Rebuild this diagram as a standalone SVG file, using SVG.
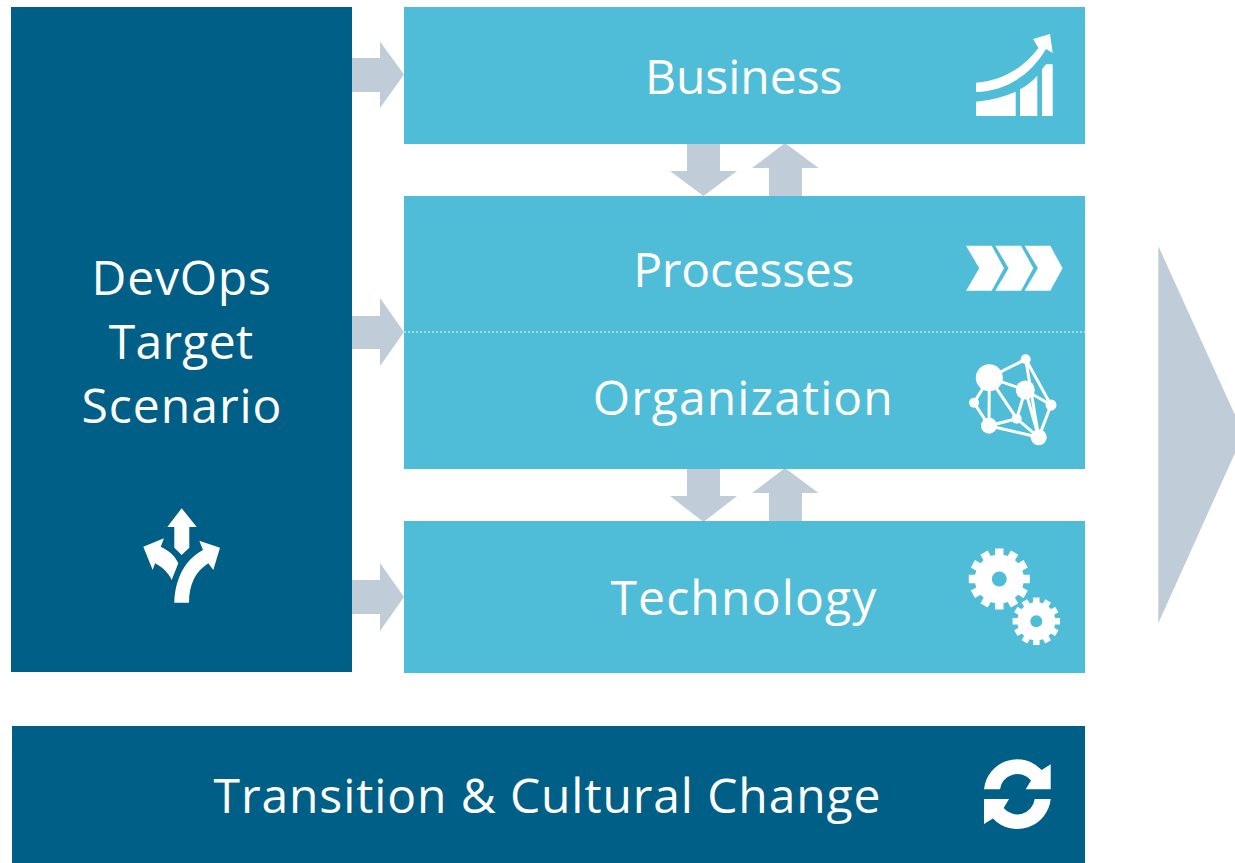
<svg xmlns="http://www.w3.org/2000/svg" width="1235" height="863" viewBox="0 0 1235 863">
<style>
.dark{fill:#005f87}.light{fill:#50bdd8}.arrow{fill:#c0cdd9}.ico{fill:#fff}
.line{stroke:#fff;stroke-width:3;fill:none}
.teeth{stroke:#fff;fill:none}
text{font-family:"Open Sans","Noto Sans","Liberation Sans",sans-serif;font-size:48px;fill:#fff;text-anchor:middle}
</style>
<rect width="1235" height="863" fill="#fff"/>
<g id="connectors" class="arrow">
<path d="M352 58H380V41.500L404 74.500L380 108V92H352Z"/>
<path d="M352 316H380V298L404 332L380 366V349H352Z"/>
<path d="M352 580H380V563L404 597L380 631V614H352Z"/>
<path d="M687 143H720V171H737L703.500 196L670 171H687Z"/>
<path d="M769 196V168H752L785 143L818.500 168H802V196Z"/>
<path d="M687 468H720V496H737L703.500 522L670 496H687Z"/>
<path d="M769 521V493H752L785 468L818.500 493H802V521Z"/>
<path id="next" d="M1158.300 246L1235 415V453L1158.300 623.300Z"/>
</g>
<g id="target">
<rect class="dark" x="11" y="7" width="341" height="665"/>
<text x="181.600" y="295" letter-spacing="0.800">DevOps</text>
<text x="181" y="359" letter-spacing="0.300">Target</text>
<text x="182" y="423" letter-spacing="1">Scenario</text>
<path class="ico" d="M181.700 508.300L196.700 527H189.300V547.700L181.700 555L174.300 547.700V527H167.300Z"/>
<path class="ico" d="M174.300 602.700H189C189 585 195 572 208.300 563.300L213.300 570L220 547.700L199.300 540.700L203 550C184 560 175 580 174.300 602.700Z"/>
<path class="ico" d="M143.300 546.700L164 538.300L160.700 546.700C170 551 175 556 178.300 563.300L171.700 580C168 572 162 567 155 563.300L152.700 570Z"/>
</g>
<g id="business">
<rect class="light" x="404" y="7" width="681" height="137"/>
<text x="743.700" y="94">Business</text>
<path class="ico" d="M976 82.700C1000 81 1022 70 1038.500 48L1033 39L1050 34L1052.700 53L1046 49C1030 76 1005 91 976 92Z"/>
<path class="ico" d="M976 101.700Q997 100 1015.700 91.700V116H976ZM1020 89.300Q1030 84 1037.300 75.700V116H1020ZM1042 69.300L1046 64.300H1052.700V116H1042Z"/>
</g>
<g id="processes-organization">
<rect class="light" x="404" y="196" width="681" height="273"/>
<line x1="404" y1="332" x2="1085" y2="332" stroke="#c4e8f1" stroke-width="1.500" stroke-dasharray="2 2"/>
<text x="743.700" y="287" letter-spacing="-0.200">Processes</text>
<text x="743.300" y="415" letter-spacing="1.100">Organization</text>
<path class="ico" d="M966 245.700H991.700L1004 268.300L991.700 290.700H966L979.300 268.300Z"/>
<path class="ico" d="M995.300 245.700H1021L1033.300 268.300L1021 290.700H995.300L1008.600 268.300Z"/>
<path class="ico" d="M1024.600 245.700H1050.300L1062.600 268.300L1050.300 290.700H1024.600L1037.900 268.300Z"/>
<path class="line" d="M989.300 377.700L1025.700 359.300L1051 405L1038.700 437.300L1025.700 359.300M989.300 377.700L1025.300 390L1051 405M1025.300 390L1038.700 437.300M989.300 377.700L974 402.700L989 425.700L989.300 377.700L1016.700 418.700L1025.300 390M989 425.700L1016.700 418.700L1038.700 437.300L989 425.700"/>
<g class="ico"><circle cx="989.300" cy="377.700" r="13.500"/><circle cx="1025.700" cy="359.300" r="5"/><circle cx="1025.300" cy="390" r="9.500"/><circle cx="974" cy="402.700" r="5"/><circle cx="1051" cy="405" r="5.500"/><circle cx="989" cy="425.700" r="8"/><circle cx="1016.700" cy="418.700" r="5"/><circle cx="1038.700" cy="437.300" r="8"/></g>
</g>
<g id="technology">
<rect class="light" x="404" y="521" width="681" height="152"/>
<text x="744" y="615" letter-spacing="1.200">Technology</text>
<g transform="translate(999.300 579)">
<path class="teeth" stroke-width="8.400" d="M0 -30.500V30.500M-30.500 0H30.500M-15.250 -26.400L15.250 26.400M15.250 -26.400L-15.250 26.400M-26.400 -15.250L26.400 15.250M26.400 -15.250L-26.400 15.250"/>
<circle r="16" fill="none" stroke="#fff" stroke-width="17"/>
</g>
<g transform="translate(1036.300 621.300)">
<path class="teeth" stroke-width="6.500" d="M0 -23.700V23.700M-23.700 0H23.700M-11.850 -20.500L11.850 20.500M11.850 -20.500L-11.850 20.500M-20.500 -11.850L20.500 11.850M20.500 -11.850L-20.500 11.850"/>
<circle r="12.500" fill="none" stroke="#fff" stroke-width="13"/>
</g>
<circle class="light" cx="999.300" cy="579" r="7.500"/>
<circle class="light" cx="1036.300" cy="621.300" r="6"/>
</g>
<g id="transition">
<rect class="dark" x="12" y="726" width="1073" height="137"/>
<text x="547.500" y="813" letter-spacing="0.900">Transition &amp; Cultural Change</text>
<path class="ico" d="M984 789.300A33.400 33.400 0 0 1 1041.700 770L1050.700 764.300V789.300H1025.700L1031 780.500A17.500 17.500 0 0 0 1000 789.300Z"/>
<path class="ico" d="M1050.700 799.100A33.400 33.400 0 0 1 993 818.400L984 824.100V799.100H1009L1003.700 807.900A17.500 17.500 0 0 0 1034.700 799.100Z"/>
</g>
</svg>
